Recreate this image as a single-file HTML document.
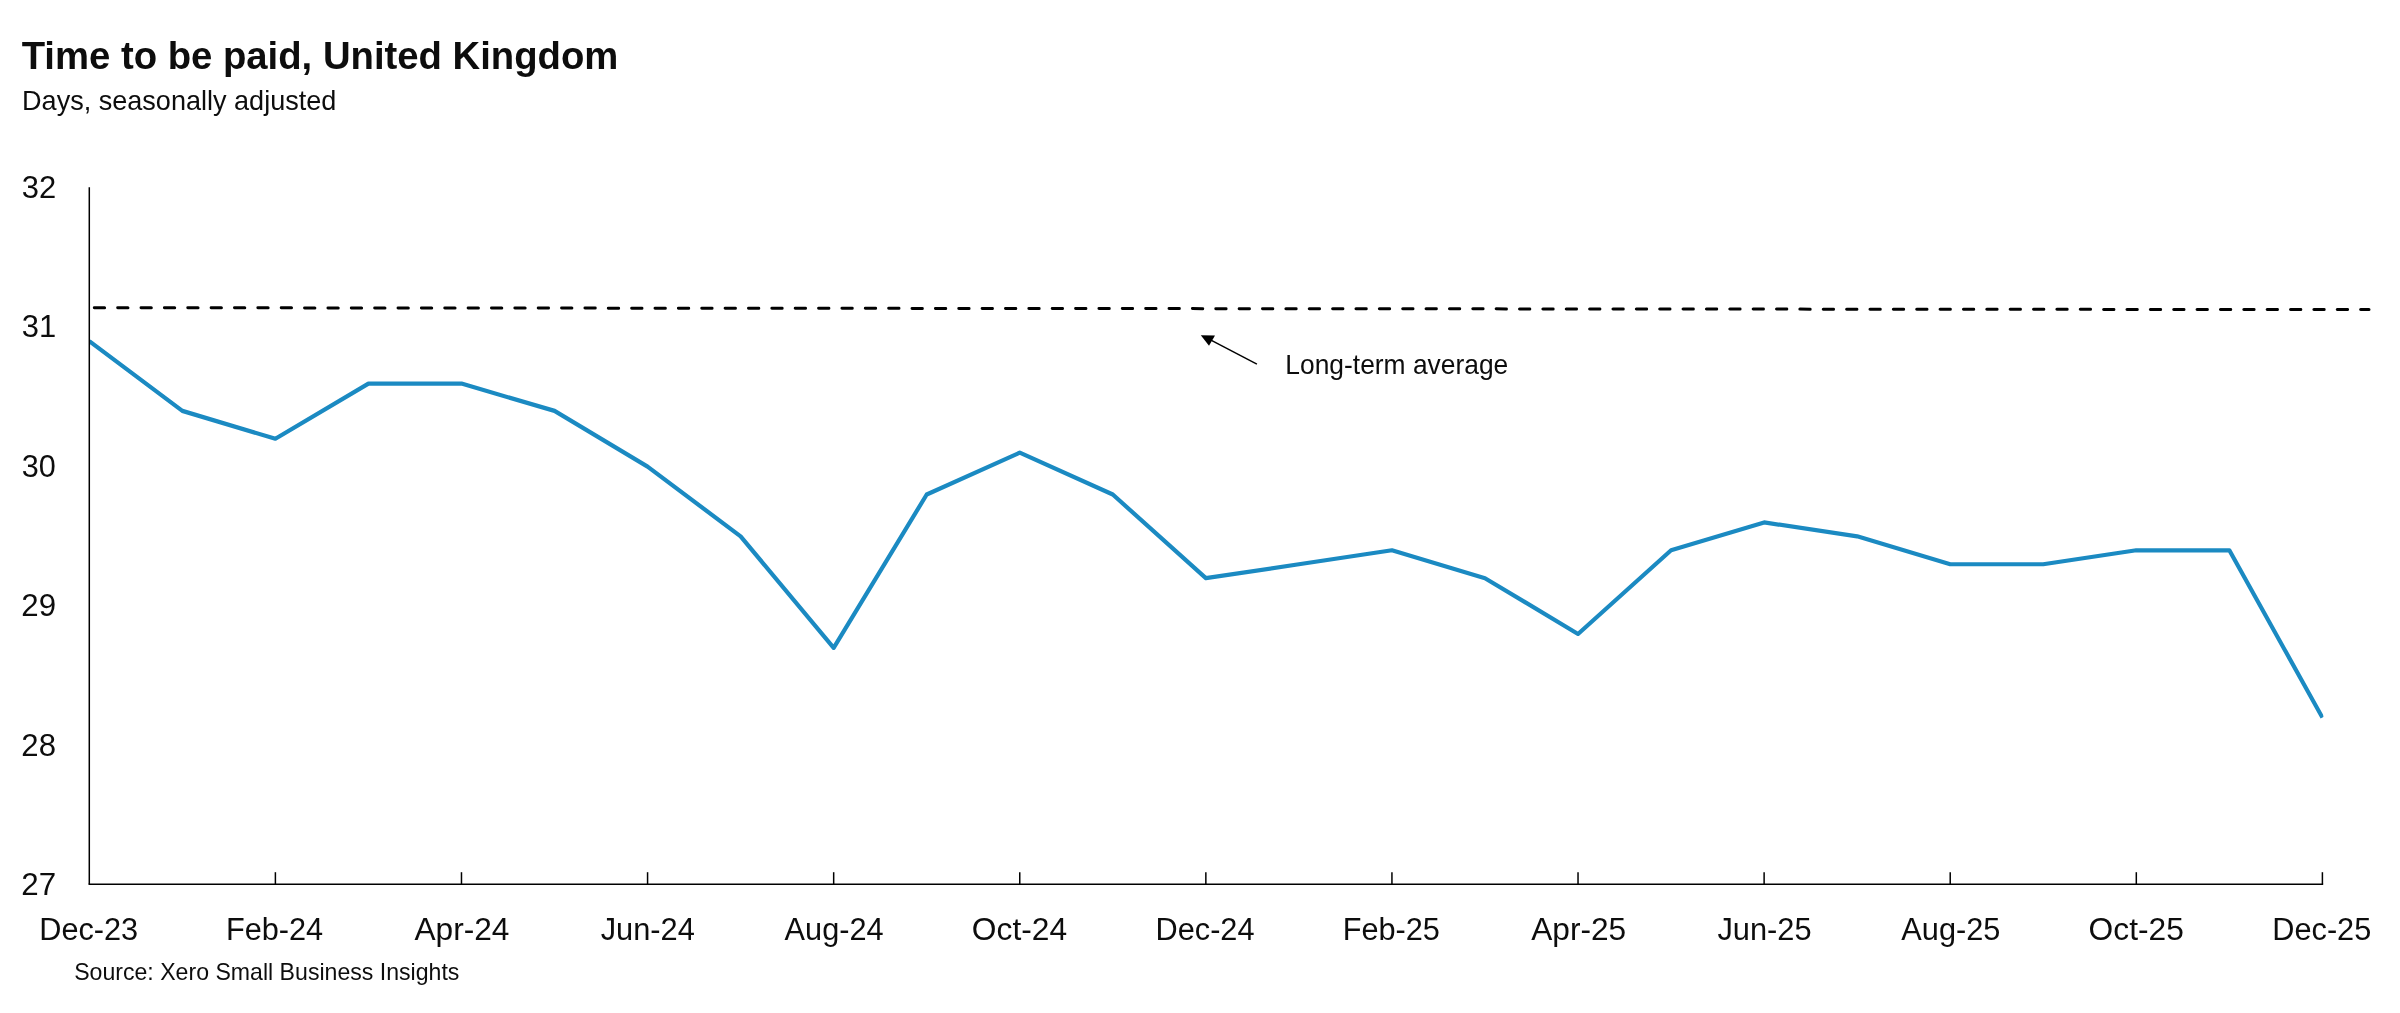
<!DOCTYPE html>
<html><head><meta charset="utf-8"><style>
html,body{margin:0;padding:0;background:#fff;width:2400px;height:1013px;overflow:hidden}
svg{display:block;will-change:transform}
text{font-family:"Liberation Sans",sans-serif;fill:#0d0d0d}
</style></head><body>
<svg width="2400" height="1013" viewBox="0 0 2400 1013">
<rect width="2400" height="1013" fill="#fff"/>
<text x="21.67" y="69.2" font-size="39.4" font-weight="bold" textLength="596.70" lengthAdjust="spacingAndGlyphs">Time to be paid, United Kingdom</text>
<text x="22.08" y="110" font-size="27.2" textLength="314.26" lengthAdjust="spacingAndGlyphs">Days, seasonally adjusted</text>
<text x="21.72" y="198.00" font-size="30.6" textLength="34.44" lengthAdjust="spacingAndGlyphs">32</text>
<text x="21.72" y="337.42" font-size="30.6" textLength="34.39" lengthAdjust="spacingAndGlyphs">31</text>
<text x="21.73" y="476.84" font-size="30.6" textLength="34.06" lengthAdjust="spacingAndGlyphs">30</text>
<text x="21.33" y="616.26" font-size="30.6" textLength="34.75" lengthAdjust="spacingAndGlyphs">29</text>
<text x="21.33" y="755.68" font-size="30.6" textLength="34.62" lengthAdjust="spacingAndGlyphs">28</text>
<text x="21.32" y="895.10" font-size="30.6" textLength="34.85" lengthAdjust="spacingAndGlyphs">27</text>

<line x1="94.3" y1="307.7" x2="2369" y2="309.6" stroke="#000" stroke-width="3" stroke-dasharray="10.3 13.064" stroke-linecap="round"/>
<defs><clipPath id="pa"><rect x="89.3" y="0" width="2234.1" height="1013"/></clipPath></defs>
<polyline points="89.30,341.16 182.35,410.87 275.39,438.76 368.44,383.59 461.48,383.59 554.53,410.87 647.57,466.64 740.62,536.35 833.67,647.89 926.71,494.52 1019.76,452.70 1112.80,494.52 1205.85,578.18 1298.90,564.23 1391.94,550.29 1484.99,578.18 1578.03,633.94 1671.08,550.29 1764.12,522.41 1857.17,536.35 1950.22,564.23 2043.26,564.23 2136.31,550.29 2229.35,550.29 2322.40,717.60" fill="none" stroke="#1b8ac2" stroke-width="4.2" stroke-linejoin="round" clip-path="url(#pa)"/>
<g stroke="#000" stroke-width="1.5" fill="none">
<line x1="89.3" y1="187.2" x2="89.3" y2="884.3"/>
<line x1="88.55" y1="884.3" x2="2323.15" y2="884.3"/>
<line x1="275.39" y1="872.2" x2="275.39" y2="884.3"/><line x1="461.48" y1="872.2" x2="461.48" y2="884.3"/><line x1="647.57" y1="872.2" x2="647.57" y2="884.3"/><line x1="833.67" y1="872.2" x2="833.67" y2="884.3"/><line x1="1019.76" y1="872.2" x2="1019.76" y2="884.3"/><line x1="1205.85" y1="872.2" x2="1205.85" y2="884.3"/><line x1="1391.94" y1="872.2" x2="1391.94" y2="884.3"/><line x1="1578.03" y1="872.2" x2="1578.03" y2="884.3"/><line x1="1764.12" y1="872.2" x2="1764.12" y2="884.3"/><line x1="1950.22" y1="872.2" x2="1950.22" y2="884.3"/><line x1="2136.31" y1="872.2" x2="2136.31" y2="884.3"/><line x1="2322.40" y1="872.2" x2="2322.40" y2="884.3"/>
</g>
<line x1="1256.9" y1="364.1" x2="1210" y2="339.6" stroke="#000" stroke-width="1.45"/>
<polygon points="1200.8,335.3 1215,335.6 1209,345.8" fill="#000"/>
<text x="1285.34" y="373.5" font-size="27.6" textLength="222.94" lengthAdjust="spacingAndGlyphs">Long-term average</text>
<text x="39.25" y="939.6" font-size="31" textLength="98.93" lengthAdjust="spacingAndGlyphs">Dec-23</text>
<text x="225.96" y="939.6" font-size="31" textLength="97.24" lengthAdjust="spacingAndGlyphs">Feb-24</text>
<text x="414.46" y="939.6" font-size="31" textLength="94.91" lengthAdjust="spacingAndGlyphs">Apr-24</text>
<text x="600.72" y="939.6" font-size="31" textLength="94.12" lengthAdjust="spacingAndGlyphs">Jun-24</text>
<text x="784.60" y="939.6" font-size="31" textLength="98.96" lengthAdjust="spacingAndGlyphs">Aug-24</text>
<text x="971.89" y="939.6" font-size="31" textLength="95.17" lengthAdjust="spacingAndGlyphs">Oct-24</text>
<text x="1155.57" y="939.6" font-size="31" textLength="98.93" lengthAdjust="spacingAndGlyphs">Dec-24</text>
<text x="1342.71" y="939.6" font-size="31" textLength="97.24" lengthAdjust="spacingAndGlyphs">Feb-25</text>
<text x="1531.21" y="939.6" font-size="31" textLength="94.91" lengthAdjust="spacingAndGlyphs">Apr-25</text>
<text x="1717.47" y="939.6" font-size="31" textLength="94.12" lengthAdjust="spacingAndGlyphs">Jun-25</text>
<text x="1901.35" y="939.6" font-size="31" textLength="98.96" lengthAdjust="spacingAndGlyphs">Aug-25</text>
<text x="2088.64" y="939.6" font-size="31" textLength="95.17" lengthAdjust="spacingAndGlyphs">Oct-25</text>
<text x="2272.32" y="939.6" font-size="31" textLength="98.93" lengthAdjust="spacingAndGlyphs">Dec-25</text>
<text x="74.15" y="980" font-size="23.8" textLength="385.28" lengthAdjust="spacingAndGlyphs">Source: Xero Small Business Insights</text>
</svg>
</body></html>
